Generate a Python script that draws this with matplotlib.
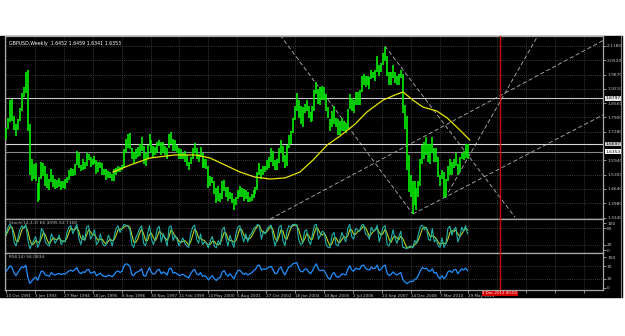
import matplotlib
matplotlib.use("Agg")
import matplotlib.pyplot as plt
import matplotlib.transforms as mtransforms
from matplotlib.patches import Rectangle
import pandas as pd

# monthly GBPUSD ranges, Oct 1991 .. May 2011
high = [1.745, 1.790, 1.870,
        1.875, 1.800, 1.760, 1.785, 1.835, 1.905, 1.930, 2.000, 2.010, 1.760, 1.600, 1.580,
        1.585, 1.490, 1.520, 1.590, 1.585, 1.570, 1.535, 1.510, 1.555, 1.530, 1.510, 1.505,
        1.515, 1.500, 1.500, 1.510, 1.520, 1.550, 1.560, 1.555, 1.580, 1.640, 1.630, 1.575,
        1.600, 1.590, 1.630, 1.625, 1.610, 1.600, 1.615, 1.595, 1.590, 1.590, 1.585, 1.555,
        1.555, 1.545, 1.540, 1.535, 1.555, 1.560, 1.570, 1.565, 1.575, 1.645, 1.695, 1.715,
        1.720, 1.650, 1.635, 1.645, 1.655, 1.670, 1.700, 1.660, 1.630, 1.665, 1.715, 1.690,
        1.660, 1.655, 1.680, 1.690, 1.680, 1.680, 1.660, 1.650, 1.715, 1.725, 1.695, 1.690,
        1.665, 1.650, 1.645, 1.630, 1.640, 1.620, 1.590, 1.610, 1.650, 1.675, 1.650, 1.625,
        1.655, 1.630, 1.600, 1.600, 1.570, 1.525, 1.520, 1.500, 1.470, 1.480, 1.445, 1.500,
        1.505, 1.475, 1.475, 1.450, 1.445, 1.420, 1.430, 1.460, 1.480, 1.470, 1.465, 1.460,
        1.450, 1.430, 1.440, 1.460, 1.475, 1.540, 1.585, 1.555, 1.570, 1.570, 1.595, 1.610,
        1.650, 1.640, 1.595, 1.600, 1.650, 1.690, 1.660, 1.620, 1.665, 1.710, 1.730, 1.790,
        1.845, 1.905, 1.870, 1.845, 1.840, 1.855, 1.870, 1.845, 1.815, 1.845, 1.915, 1.955,
        1.920, 1.930, 1.935, 1.930, 1.900, 1.840, 1.785, 1.820, 1.845, 1.790, 1.785, 1.775,
        1.790, 1.775, 1.765, 1.830, 1.900, 1.880, 1.870, 1.910, 1.910, 1.915, 1.980, 1.990,
        1.980, 1.980, 1.975, 2.010, 2.000, 2.010, 2.070, 2.030, 2.040, 2.085, 2.115, 2.070,
        2.000, 2.000, 2.030, 2.000, 1.980, 1.990, 2.010, 1.990, 1.850, 1.800, 1.620, 1.530,
        1.500, 1.500, 1.470, 1.500, 1.600, 1.665, 1.680, 1.700, 1.670, 1.670, 1.700, 1.650,
        1.650, 1.610, 1.530, 1.550, 1.540, 1.510, 1.570, 1.600, 1.590, 1.600, 1.630, 1.580,
        1.610, 1.630, 1.640, 1.670, 1.670]
low = [1.695, 1.740, 1.770,
       1.775, 1.735, 1.705, 1.735, 1.775, 1.820, 1.885, 1.905, 1.730, 1.530, 1.500, 1.510,
       1.500, 1.405, 1.415, 1.510, 1.525, 1.480, 1.470, 1.460, 1.495, 1.475, 1.465, 1.470,
       1.475, 1.460, 1.470, 1.465, 1.490, 1.505, 1.525, 1.525, 1.530, 1.575, 1.560, 1.545,
       1.550, 1.555, 1.570, 1.595, 1.565, 1.575, 1.580, 1.535, 1.540, 1.560, 1.530, 1.530,
       1.505, 1.515, 1.515, 1.500, 1.500, 1.530, 1.540, 1.540, 1.550, 1.560, 1.630, 1.650,
       1.645, 1.600, 1.585, 1.600, 1.610, 1.615, 1.640, 1.580, 1.570, 1.600, 1.660, 1.630,
       1.610, 1.620, 1.630, 1.660, 1.620, 1.630, 1.620, 1.600, 1.650, 1.670, 1.640, 1.640,
       1.630, 1.600, 1.600, 1.600, 1.590, 1.570, 1.550, 1.580, 1.600, 1.630, 1.600, 1.590,
       1.610, 1.560, 1.560, 1.555, 1.470, 1.480, 1.490, 1.440, 1.400, 1.410, 1.405, 1.420,
       1.455, 1.430, 1.410, 1.420, 1.400, 1.370, 1.390, 1.420, 1.430, 1.430, 1.410, 1.420,
       1.405, 1.405, 1.410, 1.425, 1.440, 1.460, 1.530, 1.510, 1.530, 1.540, 1.550, 1.560,
       1.590, 1.570, 1.550, 1.550, 1.585, 1.630, 1.590, 1.560, 1.570, 1.650, 1.670, 1.720,
       1.780, 1.820, 1.790, 1.760, 1.750, 1.810, 1.820, 1.790, 1.770, 1.775, 1.820, 1.900,
       1.855, 1.850, 1.870, 1.870, 1.820, 1.790, 1.730, 1.750, 1.760, 1.750, 1.710, 1.710,
       1.730, 1.730, 1.720, 1.740, 1.830, 1.820, 1.810, 1.850, 1.850, 1.850, 1.910, 1.940,
       1.930, 1.940, 1.920, 1.965, 1.970, 1.960, 2.000, 1.980, 2.000, 2.030, 2.050, 1.980,
       1.940, 1.940, 1.970, 1.950, 1.940, 1.940, 1.970, 1.810, 1.740, 1.550, 1.450, 1.430,
       1.350, 1.390, 1.370, 1.430, 1.480, 1.580, 1.600, 1.620, 1.590, 1.580, 1.630, 1.590,
       1.590, 1.520, 1.480, 1.510, 1.425, 1.430, 1.500, 1.530, 1.530, 1.560, 1.570, 1.530,
       1.540, 1.600, 1.595, 1.605, 1.600]

# yellow moving average, read as (weeks since 13 Oct 1991, price)
ma_weeks = [237, 275, 319, 374, 419, 452, 485, 518, 551, 585, 618, 651, 680, 711,
            740, 773, 799, 835, 861, 879, 901, 923, 954, 977, 1005, 1027]
ma_prices = [1.542, 1.574, 1.606, 1.620, 1.620, 1.606, 1.574, 1.542, 1.519, 1.510,
             1.515, 1.542, 1.597, 1.665, 1.707, 1.761, 1.816, 1.871, 1.894, 1.908,
             1.871, 1.839, 1.821, 1.789, 1.734, 1.688]

stoch_main = [60, 85, 95,
              80, 30, 15, 45, 75, 90, 80, 95, 40, 5, 20, 35,
              50, 10, 25, 80, 70, 30, 20, 15, 60, 45, 25, 40,
              55, 20, 35, 30, 65, 85, 90, 60, 80, 95, 45, 20,
              55, 35, 85, 90, 40, 55, 75, 20, 30, 60, 25, 15,
              20, 55, 40, 15, 50, 80, 90, 65, 80, 95, 92, 88,
              75, 20, 10, 45, 60, 80, 90, 25, 15, 60, 90, 40,
              20, 45, 80, 88, 30, 60, 40, 15, 85, 90, 35, 55,
              40, 15, 30, 45, 25, 15, 10, 60, 85, 92, 40, 25,
              60, 20, 30, 25, 8, 35, 50, 15, 8, 35, 20, 75,
              85, 40, 15, 55, 30, 10, 60, 85, 90, 55, 30, 60,
              30, 55, 60, 80, 85, 95, 90, 40, 70, 60, 80, 88,
              92, 45, 15, 40, 85, 92, 35, 15, 70, 90, 85, 95,
              95, 92, 40, 20, 25, 70, 75, 35, 20, 60, 92, 95,
              40, 55, 70, 65, 20, 10, 8, 55, 65, 20, 15, 40,
              65, 45, 30, 80, 95, 50, 40, 80, 75, 70, 92, 95,
              60, 55, 40, 85, 70, 75, 92, 30, 60, 85, 90, 20,
              15, 40, 75, 45, 25, 50, 70, 10, 8, 5, 12, 15,
              8, 35, 25, 60, 88, 92, 75, 85, 40, 35, 80, 30,
              40, 15, 10, 45, 10, 25, 80, 88, 55, 75, 85, 30,
              50, 85, 70, 90, 60]
stoch_signal = [55, 72, 85,
                85, 62, 35, 30, 50, 75, 85, 88, 70, 40, 20, 22,
                35, 30, 28, 45, 65, 55, 35, 22, 35, 45, 40, 38,
                45, 35, 32, 32, 45, 65, 82, 75, 75, 85, 70, 45,
                40, 38, 55, 75, 68, 55, 58, 45, 35, 40, 40, 28,
                22, 32, 40, 35, 38, 55, 75, 78, 78, 85, 90, 90,
                85, 55, 30, 28, 40, 62, 78, 60, 35, 35, 58, 62,
                45, 35, 50, 70, 62, 55, 45, 35, 50, 75, 65, 50,
                45, 32, 28, 32, 35, 28, 18, 30, 55, 78, 68, 45,
                42, 38, 35, 25, 20, 22, 32, 32, 22, 20, 25, 45,
                65, 62, 40, 35, 35, 30, 35, 55, 80, 75, 55, 45,
                42, 42, 50, 65, 78, 88, 92, 72, 65, 62, 70, 80,
                88, 72, 45, 32, 50, 75, 70, 45, 40, 62, 82, 90,
                92, 92, 75, 50, 28, 40, 60, 55, 40, 40, 65, 85,
                75, 60, 55, 62, 50, 30, 15, 25, 45, 45, 30, 28,
                40, 50, 45, 52, 75, 75, 58, 58, 68, 72, 80, 88,
                82, 68, 50, 60, 68, 75, 80, 65, 55, 62, 78, 62,
                40, 28, 45, 52, 45, 38, 52, 42, 25, 10, 8, 12,
                12, 20, 25, 38, 58, 80, 85, 82, 65, 50, 52, 50,
                42, 30, 20, 25, 25, 25, 40, 65, 72, 68, 75, 60,
                50, 60, 70, 80, 75]
rsi = [55, 62, 72,
       66, 48, 40, 50, 60, 68, 66, 74, 35, 15, 22, 30,
       35, 25, 40, 55, 52, 42, 40, 38, 50, 44, 42, 45,
       47, 43, 46, 45, 50, 55, 58, 54, 60, 66, 52, 46,
       52, 50, 58, 60, 48, 50, 53, 40, 44, 48, 40, 38,
       36, 42, 40, 36, 44, 52, 55, 50, 54, 72, 78, 76,
       70, 42, 40, 50, 52, 56, 62, 40, 38, 54, 66, 50,
       44, 48, 58, 60, 46, 52, 48, 42, 62, 64, 48, 50,
       46, 40, 42, 44, 40, 36, 32, 46, 56, 60, 46, 42,
       50, 38, 40, 36, 26, 34, 40, 30, 24, 32, 34, 52,
       56, 44, 38, 46, 38, 30, 44, 56, 58, 50, 44, 48,
       42, 46, 48, 56, 60, 72, 74, 58, 62, 60, 64, 68,
       70, 56, 46, 48, 62, 68, 52, 42, 56, 68, 70, 78,
       80, 82, 64, 54, 52, 60, 62, 52, 46, 56, 70, 78,
       60, 56, 58, 56, 44, 32, 28, 44, 50, 38, 34, 38,
       46, 44, 42, 60, 72, 58, 54, 64, 62, 60, 72, 74,
       64, 60, 58, 68, 62, 64, 74, 56, 62, 70, 74, 48,
       40, 44, 52, 46, 42, 46, 50, 28, 20, 14, 18, 22,
       20, 28, 30, 42, 56, 66, 62, 64, 56, 54, 62, 48,
       50, 36, 30, 40, 30, 38, 52, 56, 50, 58, 60, 46,
       54, 62, 58, 64, 56]

# trend lines: ((week, price), (week, price))
trend_lines = [((585, 1.327), (1322, 2.143)),
               ((607, 2.168), (901, 1.350)),
               ((839, 2.118), (1127, 1.336)),
               ((901, 1.350), (1322, 1.803)),
               ((972, 1.423), (1176, 2.159))]
hlines = [(1.8797, "1.8797", "#c8c8c8", "#e6e6e6"),
          (1.6697, "1.6697", "#d8d8d8", "#c8c8c8"),
          (1.6353, "1.6353", "#8a8a8a", "#ffffff")]
red_week = 1094

price_ticks = [2.1180, 2.0527, 1.9873, 1.9220, 1.8567, 1.7913, 1.7260,
               1.5953, 1.5300, 1.4647, 1.3993, 1.3340]
price_labels = ["2.1180", "2.0520", "1.9870", "1.9210", "1.8560", "1.7900", "1.7280",
                "1.5940", "1.5300", "1.4640", "1.3980", "1.3340"]
date_labels = ["13 Oct 1991", "3 Jan 1993", "27 Mar 1994", "18 Jun 1995", "8 Sep 1996",
               "30 Nov 1997", "21 Feb 1999", "14 May 2000", "5 Aug 2001", "27 Oct 2002",
               "18 Jan 2004", "10 Apr 2005", "2 Jul 2006", "23 Sep 2007", "14 Dec 2008",
               "7 Mar 2010", "29 May 2011"]
grid_weeks = list(range(0, 1300, 64))

start = pd.Timestamp("1991-10-13")
months = pd.date_range("1991-10-01", periods=len(high), freq="MS") + pd.Timedelta(days=14)
mx = ((months - start).days / 7.0).values

W, H = 625, 336
fig = plt.figure(figsize=(6.25, 3.36), dpi=100, facecolor="white")


def box(x0, y0, x1, y1):
    return [x0 / W, 1 - y1 / H, (x1 - x0) / W, (y1 - y0) / H]


fig.patches.append(Rectangle((0, 1 - 297 / H), 622 / W, (297 - 36) / H,
                             transform=fig.transFigure, color="black", zorder=-10))

ax = fig.add_axes(box(5, 36, 603, 219))
ax_st = fig.add_axes(box(5, 219, 603, 253))
ax_rsi = fig.add_axes(box(5, 253, 603, 290))

grid_kw = dict(color="#6a6a6a", linestyle=(0, (1, 2)), linewidth=0.5)
for a in (ax, ax_st, ax_rsi):
    a.set_facecolor("black")
    a.set_xlim(-2.2, 1322)
    for s in a.spines.values():
        s.set_color("#a8a8a8")
        s.set_linewidth(0.9)
    a.yaxis.tick_right()
    a.tick_params(axis="y", colors="#c8c8c8", labelsize=3.2, length=2, width=0.5, pad=1)
    a.set_xticks(grid_weeks)
    a.grid(axis="x", **grid_kw)
    a.axvline(red_week, color="#d40000", lw=1.0, zorder=4)
    a.set_axisbelow(True)

# main price panel
ax.set_ylim(1.3272, 2.1637)
ax.set_yticks(price_ticks, price_labels)
ax.grid(axis="y", **grid_kw)
ax.tick_params(axis="x", labelbottom=False, length=0)
ax.vlines(mx, low, high, color="#00f000", lw=1.2, zorder=3)
ax.plot(ma_weeks, ma_prices, color="#e6e600", lw=0.9, zorder=4)
for (w1, p1), (w2, p2) in trend_lines:
    ax.plot([w1, w2], [p1, p2], color="#b4b4b4", lw=0.6, ls=(0, (5, 3)), zorder=2)
trans = mtransforms.blended_transform_factory(ax.transAxes, ax.transData)
for p, lab, lc, bg in hlines:
    ax.axhline(p, color=lc, lw=0.8, zorder=2)
    ax.text(1.004, p, lab, transform=trans, fontsize=3.2, color="black", va="center",
            ha="left", clip_on=False, bbox=dict(fc=bg, ec="none", pad=0.3))
ax.text(0.006, 0.975, "GBPUSD,Weekly  1.6452 1.6459 1.6341 1.6353", transform=ax.transAxes,
        fontsize=3.4, color="white", va="top", ha="left")

# stochastic panel
ax_st.set_ylim(-11, 115)
ax_st.set_yticks([100, 80, 20, 0], ["100", "80", "20", "0"])
for lv in (80, 20):
    ax_st.axhline(lv, **grid_kw)
ax_st.tick_params(axis="x", labelbottom=False, length=0)
ax_st.plot(mx, stoch_signal, color="#b4d21e", lw=0.8, zorder=3)
ax_st.plot(mx, stoch_main, color="#20b2aa", lw=0.8, zorder=3)
ax_st.text(0.006, 0.95, "Stoch(14,3,3) 66.3095 62.7168", transform=ax_st.transAxes,
           fontsize=3.2, color="#c0c0c0", va="top", ha="left")

# RSI panel
ax_rsi.set_ylim(-6.5, 113)
ax_rsi.set_yticks([100, 70, 30, 0], ["100", "70", "30", "0"])
for lv in (70, 30):
    ax_rsi.axhline(lv, **grid_kw)
ax_rsi.plot(mx, rsi, color="#1e90ff", lw=0.9, zorder=3)
ax_rsi.text(0.006, 0.95, "RSI(14) 56.0834", transform=ax_rsi.transAxes,
            fontsize=3.2, color="#c0c0c0", va="top", ha="left")
ax_rsi.set_xticks(grid_weeks, date_labels + [""] * (len(grid_weeks) - len(date_labels)))
ax_rsi.tick_params(axis="x", colors="#c8c8c8", labelsize=3.0, length=2, width=0.5, pad=1)
plt.setp(ax_rsi.get_xticklabels(), ha="left")

fig.text(500 / W, 1 - 293.5 / H, "9 Dec 2012 00:00", fontsize=2.8, color="white",
         ha="center", va="center", bbox=dict(fc="#d40000", ec="none", pad=0.6), zorder=5)
fig.lines.append(plt.Line2D([621 / W, 621 / W], [1 - 297 / H, 1 - 36 / H],
                            transform=fig.transFigure, color="#808080", lw=0.8))

fig.savefig("out.png", dpi=100, facecolor="white")
